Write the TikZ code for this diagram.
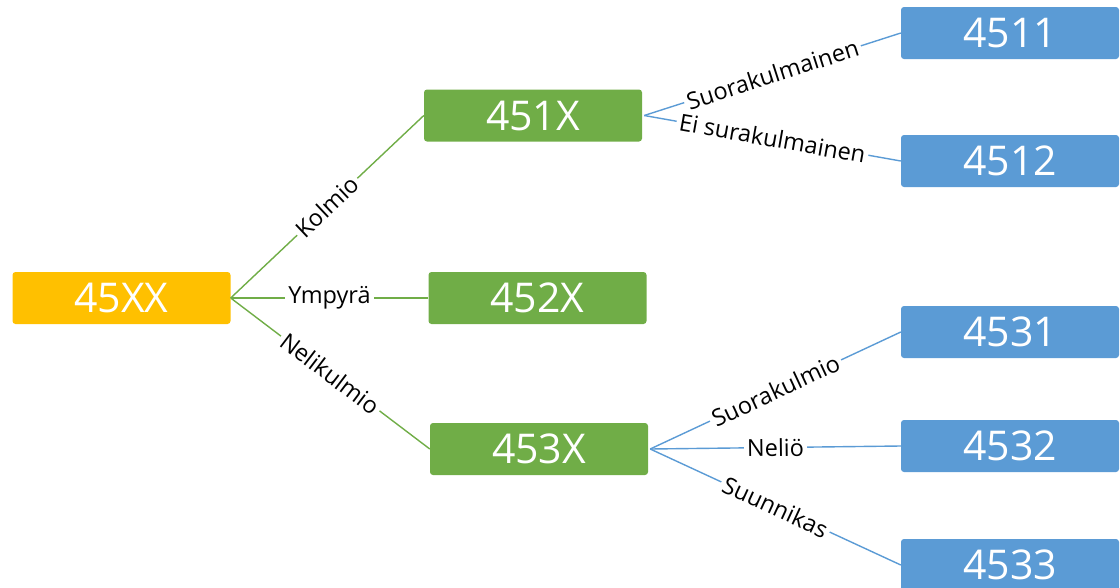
\documentclass[tikz,border=0pt]{standalone}
\usepackage{fontspec}
\setmainfont{Open Sans}
\definecolor{cOrange}{HTML}{FFC000}
\definecolor{cGreen}{HTML}{70AD47}
\definecolor{cBlue}{HTML}{5B9BD5}
\begin{document}
\begin{tikzpicture}[x=1pt,y=-1pt,
  box/.style={rounded corners=3pt, minimum width=218pt, minimum height=52pt, inner sep=0pt,
    text=white, font=\fontsize{41}{44}\selectfont},
  rootbox/.style={box, fill=cOrange},
  midbox/.style={box, fill=cGreen},
  leafbox/.style={box, fill=cBlue},
  gline/.style={draw=cGreen, line width=1.4pt},
  bline/.style={draw=cBlue, line width=1.4pt},
  lab/.style={fill=white, inner sep=3pt, text=black, font=\fontsize{23.5}{26}\selectfont, sloped}
]
\useasboundingbox (0,0) rectangle (1120,587);
\node[rootbox] (r) at (121.5,298) {45XX};
\node[midbox] (a) at (533,115.5) {451X};
\node[midbox] (b) at (537.5,298) {452X};
\node[midbox] (c) at (539,449) {453X};
\node[leafbox] (a1) at (1010,33) {4511};
\node[leafbox] (a2) at (1010,161) {4512};
\node[leafbox] (c1) at (1010,332) {4531};
\node[leafbox] (c2) at (1010,446) {4532};
\node[leafbox] (c3) at (1010,565) {4533};

\draw[gline] (r.east) -- node[lab] {Kolmio} (a.west);
\draw[gline] (r.east) -- node[lab] {Ympyrä} (b.west);
\draw[gline] (r.east) -- node[lab] {Nelikulmio} (c.west);

\coordinate (ae) at ([xshift=2pt]a.east);
\draw[bline] (ae) -- node[lab] {Suorakulmainen} (a1.west);
\draw[bline] (ae) -- node[lab] {Ei surakulmainen} (a2.west);

\coordinate (ce) at ([xshift=2pt]c.east);
\draw[bline] (ce) -- node[lab] {Suorakulmio} (c1.west);
\draw[bline] (ce) -- node[lab] {Neliö} (c2.west);
\draw[bline] (ce) -- node[lab] {Suunnikas} (c3.west);
\end{tikzpicture}
\end{document}
